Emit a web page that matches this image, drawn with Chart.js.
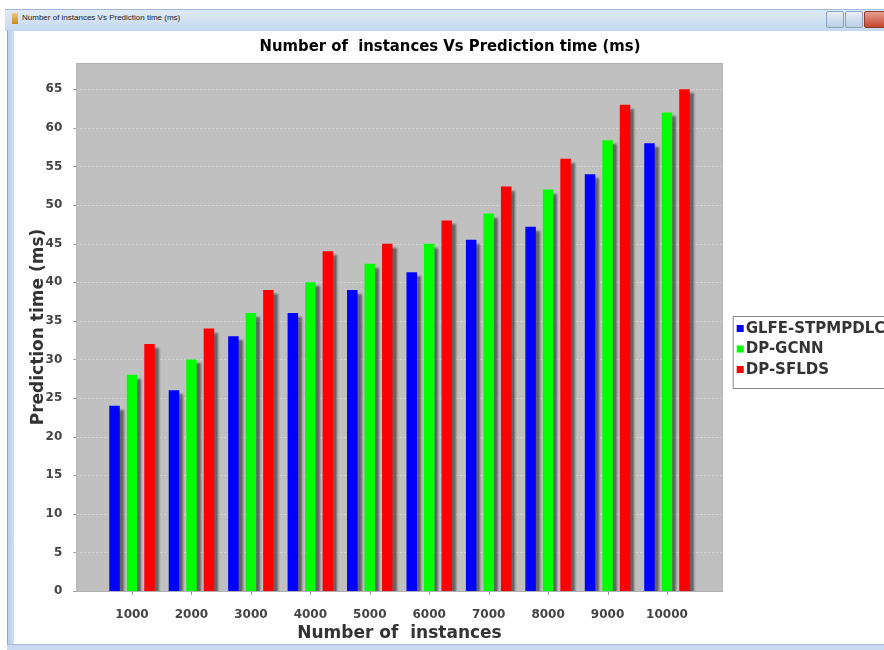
<!DOCTYPE html>
<html>
<head>
<meta charset="utf-8">
<script src="https://cdn.jsdelivr.net/npm/chart.js@4.4.1/dist/chart.umd.min.js"></script>
<style>
    html, body { margin: 0; padding: 0; background: #fff; }
    #wrap { position: relative; width: 884px; height: 650px; overflow: hidden; }
    #chart { position: absolute; left: 0; top: 0; }
    .frame { position: absolute; pointer-events: none; }
    #titlebar { left: 5px; top: 9px; width: 890px; height: 21px;
        background: linear-gradient(#dfeaf7, #c4d8ef); border-top: 1px solid #9fb8d6; }
    #leftborder { left: 7px; top: 30px; width: 6px; height: 616px;
        background: linear-gradient(to right, #b7cfec, #cfe0f4); border-left: 1px solid #8fa9c9; }
    #bottomborder { left: 7px; top: 644px; width: 880px; height: 5px;
        background: #c9dbf0; border-top: 1px solid #aab8c8; }
    #wintitle { left: 22px; top: 13px; font: 8px "Liberation Sans", sans-serif; color: #222; white-space: nowrap; }
    #icon { left: 12px; top: 13px; width: 6px; height: 11px; background: linear-gradient(#f2c77b, #c98a2c); }
    .btn { top: 11px; height: 15px; border: 1px solid #8aa3c2; border-radius: 2px;
        background: linear-gradient(#e6eef8, #bccde3); }
    #bmin { left: 826px; width: 16px; }
    #bmax { left: 845px; width: 16px; }
    #bclose { left: 864px; width: 30px; background: linear-gradient(#e8a090, #c5452f); border-color: #8c3a2c; }
</style>
</head>
<body>
<div id="wrap">
    <canvas id="chart" width="884" height="650"></canvas>
    <div class="frame" id="titlebar"></div>
    <div class="frame" id="icon"></div>
    <div class="frame" id="wintitle">Number of instances Vs Prediction time (ms)</div>
    <div class="frame btn" id="bmin"></div>
    <div class="frame btn" id="bmax"></div>
    <div class="frame btn" id="bclose"></div>
    <div class="frame" id="leftborder"></div>
    <div class="frame" id="bottomborder"></div>
</div>
<script>
// Prediction time per number of instances
const instances = ['1000', '2000', '3000', '4000', '5000', '6000', '7000', '8000', '9000', '10000'];
const glfeTimes = [24, 26, 33, 36, 39, 41.3, 45.5, 47.2, 54, 58];
const gcnnTimes = [28, 30, 36, 40, 42.4, 45, 48.9, 52, 58.4, 62];
const sfldsTimes = [32, 34, 39, 44, 45, 48, 52.4, 56, 63, 65];
const seriesNames = ['GLFE-STPMPDLC', 'DP-GCNN', 'DP-SFLDS'];

const yMax = 68.4;
const plotMargin = 26;   // gray plot extends past the category area (JFreeChart margins)

const plotDecor = {
    id: 'plotDecor',
    beforeDatasetsDraw(chart) {
        const { ctx, chartArea: a, scales } = chart;
        const left = a.left - plotMargin, right = a.right + plotMargin;
        ctx.save();
        ctx.fillStyle = '#c0c0c0';
        ctx.fillRect(left, a.top, right - left, a.bottom - a.top + 1);

        // grid lines + tick marks
        ctx.lineWidth = 1;
        scales.y.ticks.forEach(t => {
            const y = Math.round(scales.y.getPixelForValue(t.value)) + 0.5;
            ctx.strokeStyle = 'rgba(225,225,225,0.7)';
            ctx.setLineDash([2, 2]);
            ctx.beginPath(); ctx.moveTo(left, y); ctx.lineTo(right, y); ctx.stroke();
            ctx.setLineDash([]);
            ctx.strokeStyle = '#999';
            ctx.beginPath(); ctx.moveTo(left - 3, y); ctx.lineTo(left, y); ctx.stroke();
        });
        instances.forEach((c, i) => {
            const x = Math.round(scales.x.getPixelForValue(i)) + 0.5;
            ctx.strokeStyle = '#999';
            ctx.beginPath(); ctx.moveTo(x, a.bottom + 1); ctx.lineTo(x, a.bottom + 4); ctx.stroke();
        });
        ctx.strokeStyle = '#b0b0b0';
        ctx.strokeRect(left + 0.5, a.top + 0.5, right - left - 1, a.bottom - a.top);
        ctx.restore();

        // bar shadows
        ctx.save();
        ctx.shadowColor = 'rgba(70,70,70,0.75)';
        ctx.shadowOffsetX = 4;
        ctx.shadowOffsetY = 4;
        ctx.shadowBlur = 2;
    },
    afterDatasetsDraw(chart) {
        chart.ctx.restore();
    },
    afterDraw(chart) {
        const { ctx, chartArea: a } = chart;
        ctx.save();
        // chart title
        ctx.fillStyle = '#000';
        ctx.font = 'bold 16.5px "DejaVu Sans Condensed", "Liberation Sans", sans-serif';
        ctx.textAlign = 'center';
        ctx.textBaseline = 'middle';
        ctx.fillText('Number of  instances Vs Prediction time (ms)', 450, 47);

        // legend box
        const lx = a.right + plotMargin + 10, ly = 316;
        ctx.strokeStyle = '#888';
        ctx.fillStyle = '#fff';
        ctx.fillRect(lx, ly, 200, 72);
        ctx.strokeRect(lx + 0.5, ly + 0.5, 200, 72);
        ctx.font = 'bold 15px "DejaVu Sans", sans-serif';
        ctx.textAlign = 'left';
        chart.data.datasets.forEach((ds, i) => {
            const cy = ly + 12 + i * 20.5;
            ctx.fillStyle = ds.backgroundColor;
            ctx.fillRect(lx + 4, cy - 3, 7, 7);
            ctx.fillStyle = '#333';
            ctx.fillText(ds.label, lx + 13, cy + 1);
        });
        ctx.restore();
    }
};

new Chart(document.getElementById('chart'), {
    type: 'bar',
    data: {
        labels: instances,
        datasets: [
            { label: seriesNames[0], data: glfeTimes, backgroundColor: '#0000ff' },
            { label: seriesNames[1], data: gcnnTimes, backgroundColor: '#00ff00' },
            { label: seriesNames[2], data: sfldsTimes, backgroundColor: '#ff0000' }
        ]
    },
    options: {
        responsive: false,
        animation: false,
        layout: { padding: { left: 14, top: 63, right: 187.3, bottom: 0 } },
        datasets: { bar: { categoryPercentage: 0.883, barPercentage: 0.6 } },
        plugins: { legend: { display: false }, tooltip: { enabled: false } },
        scales: {
            x: {
                grid: { display: false },
                border: { display: false },
                afterFit: s => { s.height = 59; },
                ticks: { color: '#444', padding: 9, font: { family: 'DejaVu Sans', size: 12, weight: 'bold' } },
                title: { display: true, text: 'Number of  instances', color: '#333',
                    padding: { top: 0, bottom: 6 }, font: { family: 'DejaVu Sans', size: 17, weight: 'bold' } }
            },
            y: {
                min: 0, max: yMax,
                grid: { display: false },
                border: { display: false },
                afterFit: s => { s.width = 88.3; },
                afterBuildTicks: s => { s.ticks = s.ticks.filter(t => t.value % 5 === 0); },
                ticks: { stepSize: 5, color: '#444', padding: 32, font: { family: 'DejaVu Sans', size: 12, weight: 'bold' } },
                title: { display: true, text: 'Prediction time (ms)', color: '#333',
                    padding: { top: 14, bottom: 0 }, font: { family: 'DejaVu Sans', size: 17, weight: 'bold' } }
            }
        }
    },
    plugins: [plotDecor]
});
</script>
</body>
</html>
